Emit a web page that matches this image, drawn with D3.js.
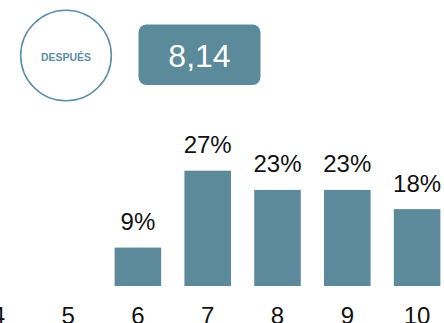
<!DOCTYPE html>
<html><head><meta charset="utf-8">
<script src="https://cdn.jsdelivr.net/npm/d3@7"></script>
<style>html,body{margin:0;padding:0;background:#fff;overflow:hidden}</style>
</head><body>
<svg id="chart" width="444" height="323"></svg>
<script>
const categories = ["4","5","6","7","8","9","10"];
const values = [0, 0, 9.09, 27.27, 22.73, 22.73, 18.18];
const valueLabels = ["", "", "9%", "27%", "23%", "23%", "18%"];
const badgeLabel = "DESPUÉS";
const averageText = "8,14";

const svg = d3.select("#chart");
const font = "Arial, 'Liberation Sans', sans-serif";
const barColor = "#5c8a9b";

// badge circle
svg.append("circle").attr("cx", 66).attr("cy", 55.5).attr("r", 45.3)
  .attr("fill", "#fff").attr("stroke", "#5e90a8").attr("stroke-width", 1.6);
svg.append("text").attr("x", 66).attr("y", 60.5).attr("text-anchor", "middle")
  .attr("font-family", font).attr("font-weight", "bold").attr("font-size", 10.5)
  .attr("fill", "#5d8ea6").text(badgeLabel);

// average box
svg.append("rect").attr("x", 138.5).attr("y", 24.5).attr("width", 122).attr("height", 60.5)
  .attr("rx", 8).attr("fill", "#5b8a9b");
svg.append("text").attr("x", 199.5).attr("y", 66.5).attr("text-anchor", "middle")
  .attr("font-family", font).attr("font-size", 32).attr("fill", "#fff").text(averageText);

// bars
const x = d3.scaleBand().domain(categories).range([-36.6, 452.0])
  .paddingInner(0.333).paddingOuter(0.1665);
const y = d3.scaleLinear().domain([0, 27.27]).range([286, 170.7]);

const data = categories.map((c, i) => ({c, v: values[i], l: valueLabels[i]}));

svg.append("g").selectAll("rect").data(data.filter(d => d.v > 0)).join("rect")
  .attr("x", d => x(d.c)).attr("width", x.bandwidth())
  .attr("y", d => y(d.v)).attr("height", d => y(0) - y(d.v))
  .attr("fill", barColor);

svg.append("g").selectAll("text").data(data.filter(d => d.l)).join("text")
  .attr("x", d => x(d.c) + x.bandwidth() / 2).attr("y", d => y(d.v) - 17.5)
  .attr("text-anchor", "middle").attr("font-family", font).attr("font-size", 24)
  .attr("fill", "#111").text(d => d.l);

// x axis
const axis = svg.append("g").attr("transform", "translate(0,286)")
  .call(d3.axisBottom(x).tickSize(0).tickPadding(0));
axis.select(".domain").remove();
axis.selectAll("text").attr("font-family", font).attr("font-size", 24).attr("fill", "#111")
  .attr("dy", null).attr("y", 37.5);
</script>
</body></html>
